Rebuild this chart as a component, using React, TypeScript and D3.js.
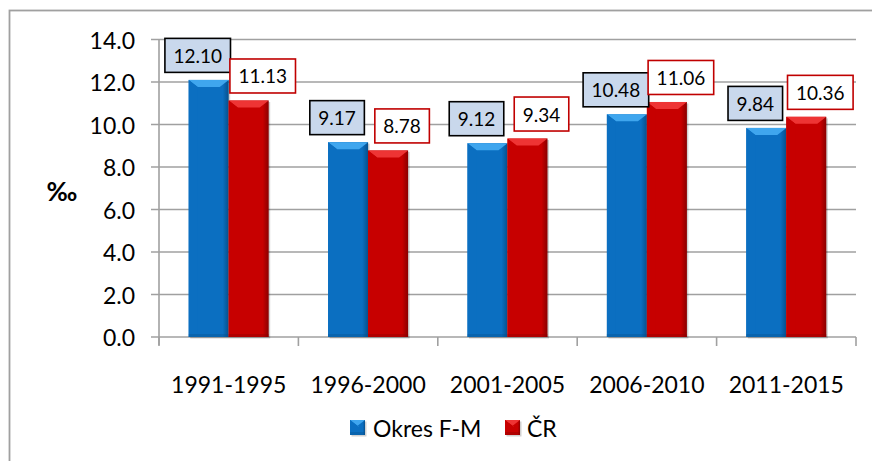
import React, { useRef, useEffect } from 'react';
import * as d3 from 'd3';

const categories = ['1991-1995', '1996-2000', '2001-2005', '2006-2010', '2011-2015'];
const okresFM = [12.1, 9.17, 9.12, 10.48, 9.84];
const cr = [11.13, 8.78, 9.34, 11.06, 10.36];
const seriesNames = ['Okres F-M', 'ČR'];
const yTicks = [0, 2, 4, 6, 8, 10, 12, 14];

const W = 872;
const H = 461;
const FONT = 'Lato, "Open Sans", sans-serif';

const styles = [
  { base: '#0B6FC1', light: '#3FA6EE', dark: '#07508C', boxFill: '#C9D8EC', boxStroke: '#000000', dx: -11 },
  { base: '#C70000', light: '#EE3434', dark: '#8A0000', boxFill: '#FFFFFF', boxStroke: '#C00000', dx: 14 },
];

export default function App() {
  const ref = useRef<SVGSVGElement | null>(null);

  useEffect(() => {
    const svg = d3.select(ref.current);
    svg.selectAll('*').remove();

    const left = 159, right = 856, top = 39.5, bottom = 337;
    const y = d3.scaleLinear().domain([0, 14]).range([bottom, top]);
    const x0 = d3.scaleBand<string>().domain(categories).range([left, right]).padding(0);
    const groupW = x0.bandwidth() * 0.574;
    const x1 = d3.scaleBand<string>().domain(seriesNames).range([0, groupW]).padding(0);

    // outer border
    svg.append('rect').attr('x', 9.5).attr('y', 10.5).attr('width', 900).attr('height', 500)
      .attr('fill', 'white').attr('stroke', '#A0A0A0').attr('stroke-width', 1.8);

    // gridlines + y ticks
    const g = svg.append('g');
    yTicks.forEach((t) => {
      g.append('line').attr('x1', 151).attr('x2', right).attr('y1', y(t)).attr('y2', y(t))
        .attr('stroke', '#A0A0A0').attr('stroke-width', 1.6);
      g.append('text').attr('x', 135).attr('y', y(t)).attr('text-anchor', 'end')
        .attr('dominant-baseline', 'central').attr('font-family', FONT).attr('font-size', 23)
        .attr('fill', '#000').text(t.toFixed(1));
    });
    // y axis line
    g.append('line').attr('x1', left).attr('x2', left).attr('y1', top).attr('y2', bottom + 8)
      .attr('stroke', '#A0A0A0').attr('stroke-width', 1.6);
    // category ticks
    const bounds = categories.map((c) => x0(c) as number).concat([right]);
    bounds.forEach((bx) => {
      g.append('line').attr('x1', bx).attr('x2', bx).attr('y1', bottom).attr('y2', bottom + 9)
        .attr('stroke', '#A0A0A0').attr('stroke-width', 1.6);
    });
    categories.forEach((c) => {
      g.append('text').attr('x', (x0(c) as number) + x0.bandwidth() / 2).attr('y', 384)
        .attr('text-anchor', 'middle').attr('dominant-baseline', 'central')
        .attr('font-family', FONT).attr('font-size', 23).attr('fill', '#000').text(c);
    });

    // ‰ label
    svg.append('text').attr('x', 62).attr('y', 191).attr('text-anchor', 'middle')
      .attr('dominant-baseline', 'central').attr('font-family', FONT).attr('font-weight', 'bold')
      .attr('font-size', 26).attr('fill', '#000').text('‰');

    const defs = svg.append('defs');
    styles.forEach((s, i) => {
      const lg = defs.append('linearGradient').attr('id', `side${i}`).attr('x1', 0).attr('x2', 1).attr('y1', 0).attr('y2', 0);
      lg.append('stop').attr('offset', '0%').attr('stop-color', s.base);
      lg.append('stop').attr('offset', '85%').attr('stop-color', s.base);
      lg.append('stop').attr('offset', '100%').attr('stop-color', s.dark);
    });

    const drawBar = (sel: any, x: number, yt: number, w: number, h: number, i: number) => {
      const s = styles[i];
      sel.append('rect').attr('x', x + 1.5).attr('y', yt + 1.5).attr('width', w).attr('height', h)
        .attr('fill', '#000').attr('opacity', 0.18);
      sel.append('rect').attr('x', x).attr('y', yt).attr('width', w).attr('height', h)
        .attr('fill', `url(#side${i})`);
      const b = Math.min(7, h);
      const inset = 9;
      sel.append('polygon')
        .attr('points', `${x},${yt} ${x + w},${yt} ${x + w - inset},${yt + b} ${x + inset},${yt + b}`)
        .attr('fill', s.light);
      sel.append('polygon')
        .attr('points', `${x},${yt} ${x + inset},${yt + b} ${x + inset},${yt + h - 3} ${x},${yt + h}`)
        .attr('fill', s.base);
      sel.append('rect').attr('x', x).attr('y', yt + h - 3).attr('width', w).attr('height', 3)
        .attr('fill', s.dark).attr('opacity', 0.35);
    };

    const series = [okresFM, cr];
    const barsG = svg.append('g');
    const labelsG = svg.append('g');
    series.forEach((vals, si) => {
      vals.forEach((v, ci) => {
        const c = categories[ci];
        const bx = (x0(c) as number) + x0.bandwidth() / 2 - groupW / 2 + (x1(seriesNames[si]) as number);
        const bw = x1.bandwidth();
        const yt = y(v);
        drawBar(barsG, bx, yt, bw, bottom - yt, si);

        const s = styles[si];
        const cx = bx + bw / 2 + s.dx;
        const lg = labelsG.append('g');
        const rect = lg.append('rect');
        const txt = lg.append('text').attr('x', cx).attr('text-anchor', 'middle')
          .attr('dominant-baseline', 'central').attr('font-family', FONT).attr('font-size', 19)
          .attr('fill', '#000').text(v.toFixed(2));
        const tw = (txt.node() as SVGTextElement).getComputedTextLength();
        const boxW = tw + 17;
        const boxH = 34;
        const boxBottom = yt - 7.5;
        txt.attr('y', boxBottom - boxH / 2);
        rect.attr('x', cx - boxW / 2).attr('y', boxBottom - boxH).attr('width', boxW).attr('height', boxH)
          .attr('fill', s.boxFill).attr('stroke', s.boxStroke).attr('stroke-width', 1.6);
      });
    });

    // legend
    const legend = svg.append('g');
    const items = [{ x: 350, tx: 373 }, { x: 505, tx: 527 }];
    items.forEach((it, i) => {
      drawBar(legend, it.x, 420, 15, 15, i);
      legend.append('text').attr('x', it.tx).attr('y', 428).attr('dominant-baseline', 'central')
        .attr('font-family', FONT).attr('font-size', 23).attr('fill', '#000').text(seriesNames[i]);
    });
  }, []);

  return (
    <svg ref={ref} width={W} height={H} style={{ position: 'absolute', left: 0, top: 0, background: 'white' }} />
  );
}
